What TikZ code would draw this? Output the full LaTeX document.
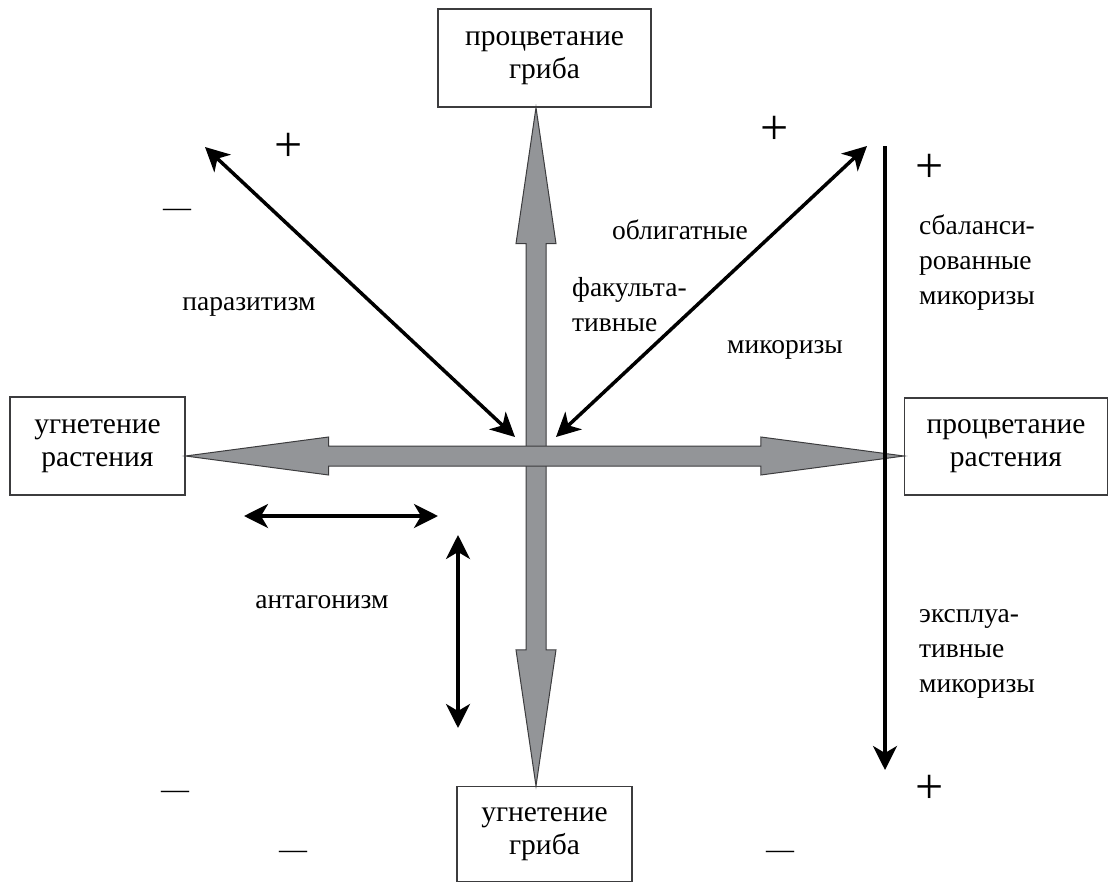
\documentclass[tikz,border=0pt]{standalone}
\usepackage{fontspec}
\setmainfont{Liberation Serif}
\usetikzlibrary{arrows.meta,calc}
\definecolor{axisgrey}{RGB}{147,149,152}
\definecolor{edgegrey}{RGB}{60,60,62}
\tikzset{
  statebox/.style={draw=edgegrey, line width=1.2pt, fill=white, inner sep=0pt,
    align=center, font=\fontsize{29.5}{33}\selectfont},
  lbl/.style={inner sep=0pt, font=\fontsize{27.5}{35}\selectfont},
  lblL/.style={lbl, align=left, anchor=west},
  plussign/.style={inner sep=0pt, font=\fontsize{50}{50}\selectfont},
  minussign/.style={inner sep=0pt, font=\fontsize{28}{28}\selectfont},
  greyarrow/.style={fill=axisgrey, draw=edgegrey, line width=1pt, line join=miter},
  blackarrow/.style={line width=3.5pt, black,
    arrows={-Stealth[length=24pt, width=24pt, inset=7pt]}},
  blackdouble/.style={line width=3.5pt, black,
    arrows={Stealth[length=24pt, width=24pt, inset=7pt]-Stealth[length=24pt, width=24pt, inset=7pt]}},
}
\begin{document}
\begin{tikzpicture}[x=1pt, y=-1pt]
\useasboundingbox (0,0) rectangle (1109,883);

% four state boxes
\node[statebox, minimum width=213pt, minimum height=98pt] (tbox) at (544.5,58) {процветание\\гриба};
\node[statebox, minimum width=175pt, minimum height=98pt] (lbox) at (97.5,446) {угнетение\\растения};
\node[statebox, minimum width=203pt, minimum height=97pt] (rbox) at (1006,446.5) {процветание\\растения};
\node[statebox, minimum width=175pt, minimum height=95pt] (bbox) at (544.5,834) {угнетение\\гриба};

% crossing point of the two axes and the axis tips
\coordinate (c) at (536,456);
\coordinate (vT) at (c |- tbox.south);
\coordinate (vB) at (c |- bbox.north);
\coordinate (hL) at (lbox.east |- c);
\coordinate (hR) at (rbox.west |- c);

% vertical axis: fungus
\draw[greyarrow] (vT) -- ($(vT)+(20,136)$) -- ($(vT)+(10,136)$) -- ($(vB)+(10,-136)$)
  -- ($(vB)+(20,-136)$) -- (vB) -- ($(vB)+(-20,-136)$) -- ($(vB)+(-10,-136)$)
  -- ($(vT)+(-10,136)$) -- ($(vT)+(-20,136)$) -- cycle;
% horizontal axis: plant
\draw[greyarrow] (hL) -- ($(hL)+(143,-19)$) -- ($(hL)+(143,-10)$) -- ($(hR)+(-143,-10)$)
  -- ($(hR)+(-143,-19)$) -- (hR) -- ($(hR)+(-143,19)$) -- ($(hR)+(-143,10)$)
  -- ($(hL)+(143,10)$) -- ($(hL)+(143,19)$) -- cycle;

% free ends of the black arrows
\coordinate (pa1) at (515,437);
\coordinate (pa2) at (205,147);
\coordinate (my1) at (556,437);
\coordinate (my2) at (867,146);
\coordinate (bal1) at (885,146);
\coordinate (bal2) at (885,770);
\coordinate (an1) at (244,516);
\coordinate (an2) at (438,516);
\coordinate (an3) at (458,535);
\coordinate (an4) at (458,728);

\draw[blackdouble] (pa2) -- (pa1);
\draw[blackdouble] (my1) -- (my2);
\draw[blackarrow] (bal1) -- (bal2);
\draw[blackdouble] (an1) -- (an2);
\draw[blackdouble] (an3) -- (an4);

% labels
\node[lbl] (obl) at (680,230) {облигатные};
\node[lblL] (fak) at (572,305) {факульта-\\тивные};
\node[lbl] (myk) at (785,350) {микоризы};
\node[lbl] (par) at (249,307) {паразитизм};
\node[lblL] (sbal) at (919,263) {сбаланси-\\рованные\\микоризы};
\node[lbl] (ant) at (322,602) {антагонизм};
\node[lblL] (eks) at (919,654) {эксплуа-\\тивные\\микоризы};

% signs
\node[plussign] (p1) at (289,147) {+};
\node[minussign] (m1) at (177,213) {—};
\node[plussign] (p2) at (775,130) {+};
\node[plussign] (p3) at (930,168) {+};
\node[minussign] (m2) at (175,795) {—};
\node[plussign] (p4) at (930,789) {+};
\node[minussign] (m3) at (293,855) {—};
\node[minussign] (m4) at (780,855) {—};
\end{tikzpicture}
\end{document}
